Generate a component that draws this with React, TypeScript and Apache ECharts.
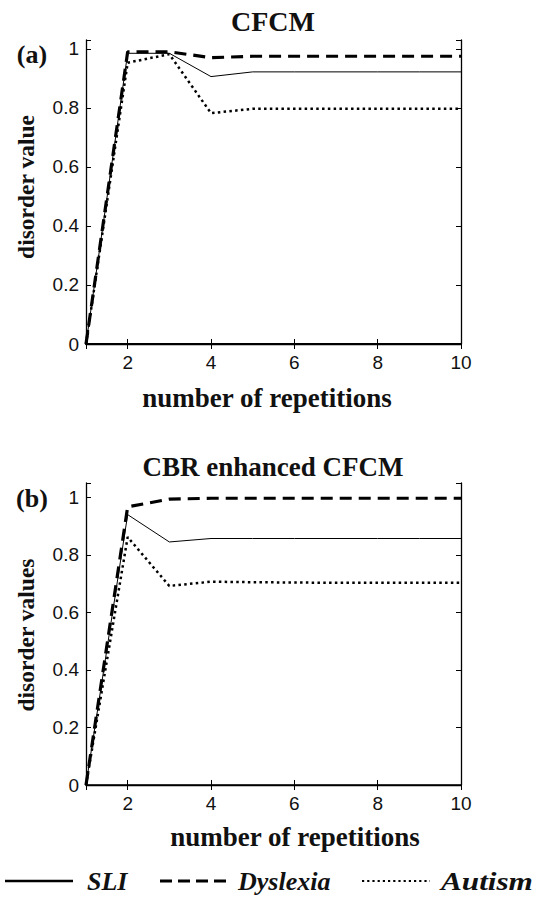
import React, { useEffect, useRef } from "react";
import * as echarts from "echarts";

const reps = [1, 2, 3, 4, 5, 6, 7, 8, 9, 10];
const xTicks = [2, 4, 6, 8, 10];
const yTickLabels = ["0", "0.2", "0.4", "0.6", "0.8", "1"];

const cfcmSLI = [0, 0.985, 0.985, 0.906, 0.922, 0.922, 0.922, 0.922, 0.922, 0.922];
const cfcmDyslexia = [0, 0.99, 0.99, 0.97, 0.975, 0.975, 0.975, 0.975, 0.975, 0.975];
const cfcmAutism = [0, 0.953, 0.982, 0.782, 0.797, 0.797, 0.797, 0.797, 0.797, 0.797];

const cbrSLI = [0, 0.94, 0.845, 0.857, 0.857, 0.857, 0.857, 0.857, 0.857, 0.857];
const cbrDyslexia = [0, 0.967, 0.994, 0.997, 0.997, 0.997, 0.997, 0.997, 0.997, 0.997];
const cbrAutism = [0, 0.862, 0.692, 0.707, 0.705, 0.704, 0.703, 0.703, 0.703, 0.703];

const seriesNames = ["SLI", "Dyslexia", "Autism"];
const titles = ["CFCM", "CBR enhanced CFCM"];
const yNames = ["disorder value", "disorder values"];
const xName = "number of repetitions";
const panelTags = ["(a)", "(b)"];

const SERIF = "'Liberation Serif', 'Times New Roman', serif";
const SANS = "'Liberation Sans', Arial, Helvetica, sans-serif";

const lineStyles = [
  { color: "#000", width: 1, type: "solid" as any },
  { color: "#000", width: 3.2, type: [12, 7] as any },
  { color: "#000", width: 2.5, type: [2.5, 3.3] as any },
];

export default function App() {
  const ref = useRef<HTMLDivElement>(null);
  useEffect(() => {
    if (!ref.current) return;
    const chart = echarts.init(ref.current, null, { renderer: "svg" });

    const grids = [
      { left: 86, top: 40, width: 375, height: 304 },
      { left: 86, top: 483, width: 375, height: 302 },
    ];
    const yMax = [1.03, 1.05];

    const xAxes: any[] = [];
    const yAxes: any[] = [];
    grids.forEach((_, gi) => {
      const base = {
        type: "value",
        gridIndex: gi,
        min: 1,
        max: 10,
        axisLine: { show: true, lineStyle: { color: "#000", width: 1.3 } },
        axisTick: {
          show: true,
          inside: true,
          length: 5,
          lineStyle: { color: "#000", width: 1 },
        },
        splitLine: { show: false },
      };
      xAxes.push({
        ...base,
        position: "bottom",
        axisLine: { show: true, lineStyle: { color: "#000", width: gi === 0 ? 2 : 1.5 } },
        axisLabel: {
          show: true,
          margin: 9,
          fontFamily: SANS,
          fontSize: 19,
          color: "#111",
          formatter: (v: number) => (xTicks.includes(v) ? String(v) : ""),
        },
      });
      xAxes.push({
        ...base,
        position: "top",
        axisLabel: { show: false },
      });
      const ybase = {
        type: "value",
        gridIndex: gi,
        min: 0,
        max: yMax[gi],
        interval: 0.2,
        axisLine: { show: true, lineStyle: { color: "#000", width: 1.3 } },
        axisTick: {
          show: true,
          inside: true,
          length: 5,
          lineStyle: { color: "#000", width: 1 },
        },
        splitLine: { show: false },
      };
      yAxes.push({
        ...ybase,
        position: "left",
        axisLabel: {
          show: true,
          margin: 7,
          fontFamily: SANS,
          fontSize: 19,
          color: "#111",
          formatter: (v: number) => {
            const idx = Math.round(v / 0.2);
            return Math.abs(v - idx * 0.2) < 1e-6 && idx < yTickLabels.length
              ? yTickLabels[idx]
              : "";
          },
        },
      });
      yAxes.push({
        ...ybase,
        position: "right",
        axisLabel: { show: false },
      });
    });

    const panels = [
      [cfcmSLI, cfcmDyslexia, cfcmAutism],
      [cbrSLI, cbrDyslexia, cbrAutism],
    ];
    const series: any[] = [];
    panels.forEach((vals, gi) => {
      vals.forEach((arr, si) => {
        series.push({
          type: "line",
          name: seriesNames[si],
          xAxisIndex: gi * 2,
          yAxisIndex: gi * 2,
          data: reps.map((x, i) => [x, arr[i]]),
          showSymbol: false,
          symbol: "none",
          lineStyle: lineStyles[si],
          z: 3 - si,
        });
      });
    });

    const graphic: any[] = [];
    const titleY = [21, 467];
    const titleSize = [28, 27];
    const xNameY = [398, 837];
    const xNameX = [267, 295];
    const yNameY = [187, 635];
    const tagY = [54, 498];
    for (let gi = 0; gi < 2; gi++) {
      graphic.push({
        type: "text",
        x: 273,
        y: titleY[gi],
        style: {
          text: titles[gi],
          font: `bold ${titleSize[gi]}px ${SERIF}`,
          fill: "#111",
          align: "center",
          verticalAlign: "middle",
        },
      });
      graphic.push({
        type: "text",
        x: xNameX[gi],
        y: xNameY[gi],
        style: {
          text: xName,
          font: `bold 27px ${SERIF}`,
          fill: "#111",
          align: "center",
          verticalAlign: "middle",
        },
      });
      graphic.push({
        type: "text",
        x: 26,
        y: yNameY[gi],
        rotation: Math.PI / 2,
        style: {
          text: yNames[gi],
          font: `bold 23.5px ${SERIF}`,
          fill: "#111",
          align: "center",
          verticalAlign: "middle",
        },
      });
      graphic.push({
        type: "text",
        x: 32,
        y: tagY[gi],
        style: {
          text: panelTags[gi],
          font: `bold 26px ${SERIF}`,
          fill: "#111",
          align: "center",
          verticalAlign: "middle",
        },
      });
    }

    const legendY = 881;
    const legendItems = [
      { x1: 5, x2: 73, tx: 87, w: 2.5, dash: null as any, sx: 1 },
      { x1: 160, x2: 228, tx: 238, w: 3, dash: [12, 6], sx: 1 },
      { x1: 362, x2: 430, tx: 441, w: 2.2, dash: [2.2, 3], sx: 1.2 },
    ];
    legendItems.forEach((it, i) => {
      graphic.push({
        type: "line",
        shape: { x1: it.x1, y1: legendY, x2: it.x2, y2: legendY },
        style: {
          stroke: "#000",
          lineWidth: it.w,
          lineDash: it.dash,
        },
      });
      graphic.push({
        type: "text",
        x: it.tx,
        y: legendY,
        scaleX: it.sx,
        style: {
          text: seriesNames[i],
          font: `italic bold 26px ${SERIF}`,
          fill: "#111",
          align: "left",
          verticalAlign: "middle",
        },
      });
    });

    chart.setOption({
      animation: false,
      backgroundColor: "#fff",
      grid: grids.map((g) => ({ ...g, containLabel: false })),
      xAxis: xAxes,
      yAxis: yAxes,
      series,
      graphic,
    });
    return () => chart.dispose();
  }, []);

  return (
    <div
      ref={ref}
      style={{ position: "fixed", left: 0, top: 0, width: 538, height: 904 }}
    />
  );
}
